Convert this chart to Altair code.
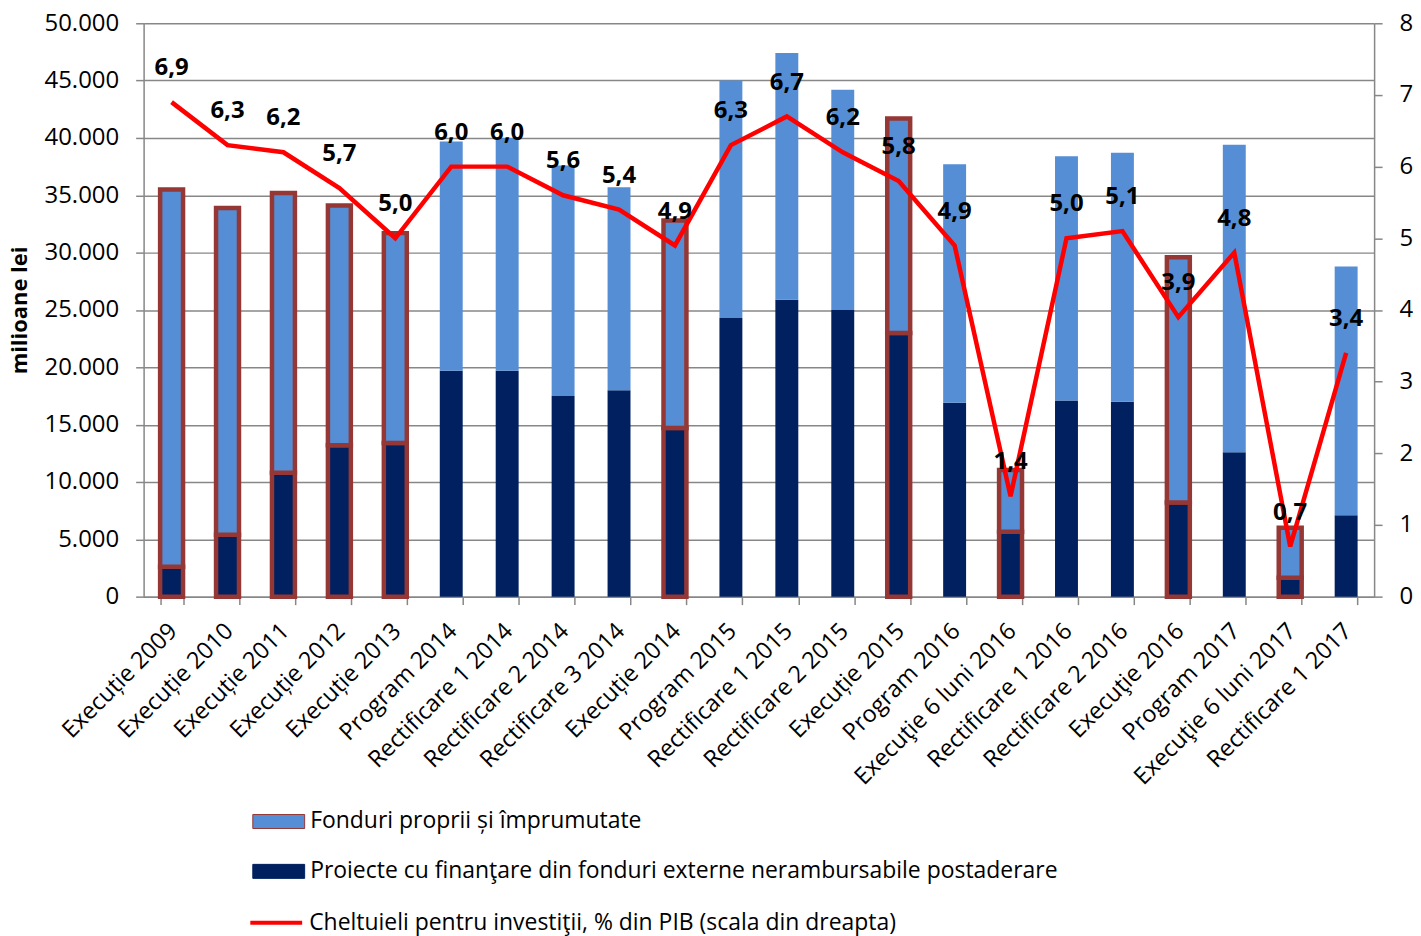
import altair as alt
import pandas as pd

categories = ["Execuție 2009", "Execuție 2010", "Execuție 2011", "Execuție 2012", "Execuție 2013",
              "Program 2014", "Rectificare 1 2014", "Rectificare 2 2014", "Rectificare 3 2014", "Execuție 2014",
              "Program 2015", "Rectificare 1 2015", "Rectificare 2 2015", "Execuție 2015",
              "Program 2016", "Execuţie 6 luni 2016", "Rectificare 1 2016", "Rectificare 2 2016", "Execuţie 2016",
              "Program 2017", "Execuţie 6 luni 2017", "Rectificare 1 2017"]
external_funds = [2600, 5400, 10800, 13200, 13400, 19700, 19700, 17500, 18000, 14700, 24300, 25900,
                  25000, 23000, 16900, 5650, 17100, 17000, 8200, 12600, 1650, 7100]
own_funds = [32900, 28500, 24400, 20900, 18300, 20000, 20300, 20100, 17700, 18100, 20700, 21500,
             19200, 18700, 20800, 5400, 21300, 21700, 21400, 26800, 4350, 21700]
pib_share = [6.9, 6.3, 6.2, 5.7, 5.0, 6.0, 6.0, 5.6, 5.4, 4.9, 6.3, 6.7, 6.2, 5.8, 4.9, 1.4, 5.0, 5.1,
             3.9, 4.8, 0.7, 3.4]

s_own = "Fonduri proprii și împrumutate"
s_ext = "Proiecte cu finanţare din fonduri externe nerambursabile postaderare"
s_line = "Cheltuieli pentru investiţii, % din PIB (scala din dreapta)"

rows = []
for i, c in enumerate(categories):
    ex = c.startswith("Execu")
    rows.append({"cat": c, "serie": s_ext, "val": external_funds[i], "ord": 0, "exec": ex})
    rows.append({"cat": c, "serie": s_own, "val": own_funds[i], "ord": 1, "exec": ex})
bars_df = pd.DataFrame(rows)

line_df = pd.DataFrame({
    "cat": categories,
    "pib": pib_share,
    "lbl": [f"{v:.1f}".replace(".", ",") for v in pib_share],
    "serie": [s_line] * len(categories),
})

FONT = "Open Sans"
GRAY = "#878787"

x_enc = alt.X("cat:N", sort=categories,
              scale=alt.Scale(paddingInner=0.59, paddingOuter=0.295),
              axis=alt.Axis(title=None, labelAngle=-45, labelFontSize=23.5, tickBand="extent",
                            tickSize=8, labelPadding=14, labelOffset=-7, labelLimit=0, grid=False))

bars = alt.Chart(bars_df).mark_bar(stroke="#953735").encode(
    x=x_enc,
    y=alt.Y("val:Q", stack="zero",
            scale=alt.Scale(domain=[0, 50000], nice=False),
            axis=alt.Axis(title="milioane lei", titleFontSize=22, titleFontWeight="bold",
                          titlePadding=13, values=list(range(0, 50001, 5000)),
                          labelExpr="replace(format(datum.value, ','), ',', '.')",
                          labelFontSize=24, labelPadding=17, tickSize=8, grid=True)),
    color=alt.Color("serie:N",
                    scale=alt.Scale(domain=[s_own, s_ext], range=["#558ED5", "#002060"]),
                    legend=alt.Legend(title=None, orient="none", legendX=109, legendY=774,
                                      direction="vertical",
                                      symbolType="M-1,-0.27L1,-0.27L1,0.27L-1,0.27Z",
                                      symbolSize=2704, symbolStrokeWidth=1,
                                      symbolStrokeColor={"expr": "datum.value == '" + s_own + "' ? '#953735' : '#002060'"},
                                      labelFont=FONT, labelFontSize=23, labelColor="black",
                                      rowPadding=11, padding=0, labelOffset=5, labelLimit=0)),
    order=alt.Order("ord:Q"),
    strokeWidth=alt.condition("datum.exec", alt.value(4.5), alt.value(0)),
)

line = alt.Chart(line_df).mark_line(strokeWidth=4.5).encode(
    x=alt.X("cat:N", sort=categories),
    y=alt.Y("pib:Q", scale=alt.Scale(domain=[0, 8], nice=False),
            axis=alt.Axis(title=None, orient="right", values=list(range(0, 9)), labelFontSize=24,
                          labelPadding=17, tickSize=8, grid=False)),
    stroke=alt.Stroke("serie:N", scale=alt.Scale(domain=[s_line], range=["#FF0000"]),
                      legend=alt.Legend(title=None, orient="none", legendX=105, legendY=874,
                                        symbolType="stroke", symbolSize=2704, symbolStrokeWidth=4,
                                        labelFont=FONT, labelFontSize=23, labelColor="black",
                                        padding=0, labelOffset=5, labelLimit=0)),
)

labels = alt.Chart(line_df).mark_text(dy=-34, fontSize=24, fontWeight="bold", font=FONT,
                                      color="black").encode(
    x=alt.X("cat:N", sort=categories),
    y=alt.Y("pib:Q", scale=alt.Scale(domain=[0, 8], nice=False), axis=None),
    text="lbl:N",
)

chart = alt.layer(bars, line, labels).resolve_scale(
    y="independent", color="independent"
).properties(
    width=1234, height=575,
    padding={"left": 0, "top": 2, "right": 0, "bottom": 0},
).configure_view(stroke=None).configure_axis(
    labelFont=FONT, titleFont=FONT, labelColor="black", titleColor="black",
    domainColor=GRAY, tickColor=GRAY, gridColor=GRAY,
    domainWidth=1.5, tickWidth=1.5, gridWidth=1.5,
)

chart.save("out.html", embed_options={"renderer": "svg", "actions": False})
